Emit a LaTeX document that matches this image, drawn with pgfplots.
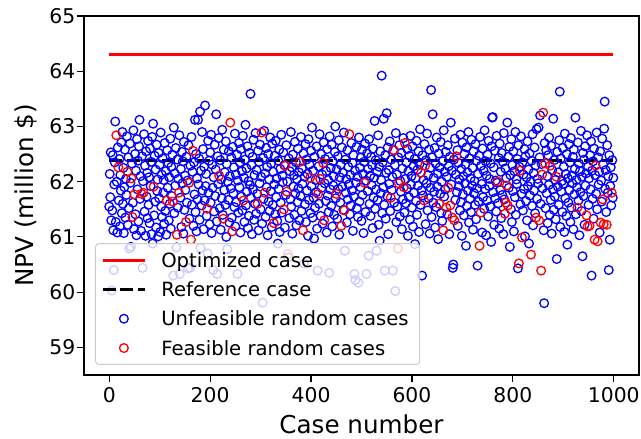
\documentclass[border=0pt]{standalone}
\usepackage{fontspec}
\setmainfont{DejaVu Sans}
\usepackage{pgfplots}
\usepackage{pgfplotstable}
\pgfplotsset{compat=1.18}

% NPV of each random case (case number = row index); c = 1 marks a feasible case
\pgfplotstableread[row sep=\\]{
y c\\
61.55 0\\ 62.14 0\\ 61.72 0\\ 62.53 0\\ 61.30 0\\ 60.03 0\\ 61.48 0\\ 62.48 0\\ 61.12 0\\ 60.40 0\\
61.95 0\\ 62.35 0\\ 63.09 0\\ 61.27 0\\ 62.84 1\\ 62.00 0\\ 61.08 0\\ 62.62 0\\ 62.26 1\\ 61.66 0\\
62.41 0\\ 61.19 0\\ 62.12 0\\ 61.84 0\\ 62.71 0\\ 61.43 0\\ 62.90 0\\ 61.60 0\\ 62.25 0\\ 61.07 0\\
61.90 0\\ 62.58 0\\ 61.35 0\\ 62.05 0\\ 61.76 0\\ 62.82 0\\ 62.18 1\\ 61.22 0\\ 62.44 0\\ 61.52 0\\
60.79 0\\ 62.69 0\\ 61.98 0\\ 60.82 0\\ 62.06 1\\ 62.33 0\\ 61.36 1\\ 61.62 0\\ 62.93 0\\ 61.14 0\\
61.77 1\\ 62.50 0\\ 61.41 0\\ 62.20 0\\ 61.03 0\\ 62.77 0\\ 61.86 0\\ 62.38 0\\ 61.28 0\\ 62.64 0\\
63.12 0\\ 61.69 0\\ 62.10 0\\ 61.11 0\\ 61.78 1\\ 62.46 0\\ 60.44 0\\ 62.01 0\\ 61.80 1\\ 62.86 0\\
61.46 0\\ 62.29 0\\ 61.02 0\\ 62.55 0\\ 61.73 0\\ 62.16 0\\ 61.34 0\\ 62.74 0\\ 61.58 0\\ 62.08 0\\
61.25 0\\ 62.60 0\\ 61.92 0\\ 62.36 0\\ 61.05 0\\ 62.81 0\\ 60.88 0\\ 63.05 0\\ 61.91 1\\ 61.39 0\\
62.47 0\\ 61.64 0\\ 62.22 0\\ 61.17 0\\ 62.67 0\\ 61.83 0\\ 62.04 0\\ 61.01 0\\ 62.52 0\\ 61.70 0\\
62.31 0\\ 61.09 0\\ 62.89 0\\ 61.55 0\\ 62.13 0\\ 61.36 0\\ 62.42 0\\ 61.80 0\\ 62.03 0\\ 61.24 0\\
62.70 0\\ 61.47 0\\ 62.19 0\\ 61.04 0\\ 61.66 1\\ 62.57 0\\ 61.89 0\\ 62.34 0\\ 61.30 0\\ 62.08 0\\
61.60 0\\ 62.78 0\\ 61.15 0\\ 62.27 0\\ 61.74 0\\ 62.49 0\\ 61.64 1\\ 60.30 0\\ 62.98 0\\ 61.43 0\\
62.15 0\\ 61.93 0\\ 62.61 0\\ 60.81 0\\ 61.04 1\\ 62.40 0\\ 61.53 0\\ 62.05 0\\ 61.80 1\\ 62.84 0\\
60.33 0\\ 61.71 0\\ 62.23 0\\ 61.18 0\\ 62.54 0\\ 61.97 0\\ 62.37 0\\ 61.06 0\\ 62.72 0\\ 61.49 0\\
62.11 0\\ 61.85 0\\ 61.27 1\\ 62.45 0\\ 61.62 0\\ 62.02 0\\ 60.43 0\\ 62.66 0\\ 61.98 1\\ 61.33 0\\
60.44 0\\ 62.29 0\\ 60.95 1\\ 62.81 0\\ 61.58 0\\ 62.18 0\\ 62.56 1\\ 61.20 0\\ 62.35 0\\ 61.77 0\\
63.12 0\\ 61.45 0\\ 62.50 0\\ 61.10 0\\ 62.06 0\\ 61.68 0\\ 63.12 0\\ 61.95 0\\ 62.42 0\\ 61.31 0\\
63.27 0\\ 60.80 0\\ 62.20 0\\ 61.57 0\\ 62.90 0\\ 61.84 0\\ 62.59 0\\ 61.14 0\\ 62.27 0\\ 61.66 0\\
63.38 0\\ 61.92 0\\ 62.14 0\\ 61.38 0\\ 61.51 1\\ 60.70 0\\ 62.74 0\\ 61.80 0\\ 62.38 0\\ 61.23 0\\
62.53 0\\ 61.62 0\\ 62.85 0\\ 61.07 0\\ 62.31 0\\ 61.89 0\\ 60.40 0\\ 62.08 0\\ 61.46 0\\ 62.67 0\\
61.74 0\\ 62.22 0\\ 63.22 0\\ 61.28 0\\ 60.33 0\\ 62.46 0\\ 61.96 0\\ 62.79 0\\ 62.11 1\\ 61.52 0\\
62.39 0\\ 61.13 0\\ 62.04 0\\ 61.70 0\\ 62.94 0\\ 61.40 0\\ 61.33 1\\ 62.58 0\\ 61.85 0\\ 62.17 0\\
61.58 0\\ 62.73 0\\ 61.00 0\\ 62.32 0\\ 60.78 0\\ 62.00 0\\ 61.67 0\\ 62.55 0\\ 61.26 0\\ 62.10 0\\
63.07 1\\ 61.88 0\\ 62.44 0\\ 61.35 0\\ 61.10 1\\ 62.63 0\\ 61.79 0\\ 62.26 0\\ 61.54 0\\ 62.87 0\\
61.19 0\\ 62.13 0\\ 61.63 0\\ 62.49 0\\ 60.33 0\\ 62.02 0\\ 61.44 0\\ 62.70 0\\ 61.90 0\\ 62.35 0\\
61.08 0\\ 62.59 0\\ 61.73 0\\ 62.19 0\\ 61.48 0\\ 62.83 0\\ 61.66 1\\ 62.07 0\\ 61.27 0\\ 62.40 0\\
63.03 0\\ 61.57 0\\ 62.24 0\\ 61.82 0\\ 62.64 0\\ 61.16 0\\ 62.01 0\\ 61.38 0\\ 62.52 0\\ 61.94 0\\
63.59 0\\ 61.71 0\\ 62.30 0\\ 61.05 0\\ 62.45 0\\ 61.86 0\\ 62.76 0\\ 61.31 0\\ 62.12 0\\ 61.60 0\\
62.88 0\\ 61.42 0\\ 62.21 0\\ 61.78 0\\ 61.60 1\\ 62.56 0\\ 61.12 0\\ 62.36 0\\ 61.97 0\\ 62.67 0\\
61.50 0\\ 62.09 0\\ 62.89 1\\ 61.24 0\\ 59.81 0\\ 62.43 0\\ 61.69 0\\ 62.92 0\\ 61.80 1\\ 62.15 0\\
61.36 0\\ 62.61 0\\ 61.90 0\\ 62.27 0\\ 61.03 0\\ 62.50 0\\ 61.64 0\\ 62.04 0\\ 61.47 0\\ 62.80 0\\
61.83 0\\ 62.33 0\\ 61.18 0\\ 62.69 0\\ 61.58 0\\ 62.18 0\\ 61.25 1\\ 61.95 0\\ 62.47 0\\ 61.41 0\\
62.74 0\\ 61.72 0\\ 62.06 0\\ 61.29 0\\ 60.88 0\\ 62.38 0\\ 61.87 0\\ 62.58 0\\ 61.09 0\\ 62.23 0\\
61.62 0\\ 62.85 0\\ 61.44 0\\ 62.11 0\\ 61.99 0\\ 62.53 0\\ 61.50 1\\ 62.30 0\\ 61.17 0\\ 62.29 1\\
61.76 0\\ 62.66 0\\ 61.82 1\\ 62.00 0\\ 60.69 1\\ 60.63 0\\ 62.42 0\\ 61.34 0\\ 62.19 0\\ 61.68 0\\
62.90 0\\ 61.55 0\\ 62.26 0\\ 61.06 0\\ 62.49 0\\ 61.91 0\\ 62.12 0\\ 61.40 0\\ 62.72 0\\ 61.79 0\\
62.35 0\\ 61.21 0\\ 62.05 0\\ 61.63 0\\ 62.60 0\\ 61.88 0\\ 62.17 0\\ 61.30 0\\ 62.36 1\\ 61.74 0\\
62.81 0\\ 61.47 0\\ 62.24 0\\ 61.96 0\\ 61.12 1\\ 62.51 0\\ 60.52 0\\ 62.09 0\\ 61.59 0\\ 62.68 0\\
61.27 0\\ 62.40 0\\ 61.84 0\\ 62.14 0\\ 61.02 0\\ 62.77 0\\ 61.67 0\\ 62.31 0\\ 62.07 1\\ 61.43 0\\
62.56 0\\ 61.92 0\\ 62.98 0\\ 61.35 0\\ 62.20 0\\ 61.71 0\\ 60.97 0\\ 62.45 0\\ 61.53 0\\ 62.03 0\\
61.81 0\\ 62.64 0\\ 61.15 0\\ 60.39 0\\ 61.78 1\\ 62.28 0\\ 61.60 0\\ 62.86 0\\ 62.05 1\\ 61.38 0\\
62.50 0\\ 61.89 0\\ 62.13 0\\ 61.24 0\\ 62.34 1\\ 62.71 0\\ 61.30 1\\ 61.97 0\\ 62.41 0\\ 61.65 0\\
62.19 0\\ 61.08 0\\ 62.59 0\\ 61.75 0\\ 62.03 0\\ 61.45 0\\ 60.35 0\\ 62.82 0\\ 61.86 0\\ 62.25 0\\
61.56 0\\ 62.67 0\\ 61.19 0\\ 62.37 0\\ 61.93 0\\ 62.10 0\\ 61.40 0\\ 62.54 0\\ 63.00 0\\ 61.70 0\\
61.78 1\\ 62.22 0\\ 61.33 0\\ 62.46 0\\ 61.87 0\\ 62.75 0\\ 61.04 0\\ 62.08 0\\ 61.62 0\\ 62.31 0\\
61.20 1\\ 62.62 0\\ 61.91 0\\ 62.16 0\\ 61.49 0\\ 62.89 0\\ 61.48 1\\ 60.75 0\\ 62.40 0\\ 61.80 0\\
62.05 0\\ 61.26 0\\ 62.57 0\\ 61.68 0\\ 62.27 0\\ 61.95 0\\ 62.86 1\\ 61.41 0\\ 62.12 0\\ 61.57 0\\
62.70 0\\ 61.84 0\\ 62.34 0\\ 61.11 0\\ 62.48 0\\ 61.73 0\\ 60.33 0\\ 62.20 0\\ 60.22 0\\ 61.98 0\\
62.63 0\\ 61.52 0\\ 62.09 0\\ 61.36 0\\ 60.17 0\\ 62.80 0\\ 61.64 0\\ 62.25 0\\ 61.90 0\\ 62.44 0\\
61.29 0\\ 62.58 0\\ 61.76 0\\ 62.14 0\\ 61.07 0\\ 62.36 0\\ 61.98 1\\ 62.69 0\\ 61.45 0\\ 62.02 0\\
60.33 0\\ 62.51 0\\ 61.83 0\\ 62.23 0\\ 60.66 0\\ 62.77 0\\ 61.60 0\\ 62.11 0\\ 61.38 0\\ 62.45 0\\
61.94 0\\ 62.30 0\\ 61.16 0\\ 62.60 0\\ 61.71 0\\ 62.07 0\\ 63.10 0\\ 61.51 0\\ 62.39 0\\ 61.86 0\\
60.75 0\\ 62.18 0\\ 61.67 0\\ 62.84 0\\ 61.22 0\\ 62.27 0\\ 60.93 0\\ 62.55 0\\ 61.79 0\\ 62.03 0\\
63.92 0\\ 61.43 0\\ 62.35 0\\ 61.90 0\\ 63.14 0\\ 61.58 0\\ 60.39 0\\ 62.48 0\\ 61.33 0\\ 62.16 0\\
63.24 0\\ 61.74 0\\ 62.62 0\\ 61.05 0\\ 62.21 0\\ 61.96 0\\ 62.73 0\\ 61.47 0\\ 61.71 1\\ 62.40 0\\
61.85 0\\ 62.09 0\\ 60.39 0\\ 62.57 0\\ 62.57 1\\ 61.62 0\\ 62.30 0\\ 60.02 0\\ 62.88 0\\ 61.27 0\\
62.13 0\\ 61.55 0\\ 60.79 1\\ 62.44 0\\ 61.97 1\\ 62.66 0\\ 61.37 0\\ 62.01 0\\ 61.82 0\\ 62.52 0\\
61.14 0\\ 62.24 0\\ 61.68 0\\ 62.79 0\\ 61.90 1\\ 61.44 0\\ 62.70 1\\ 62.05 0\\ 61.61 0\\ 62.35 0\\
61.88 0\\ 62.59 0\\ 61.02 0\\ 62.19 0\\ 61.72 0\\ 62.47 0\\ 61.31 0\\ 62.83 0\\ 61.95 0\\ 62.10 0\\
61.53 0\\ 62.64 0\\ 61.19 0\\ 62.28 0\\ 61.80 0\\ 62.41 0\\ 60.87 0\\ 62.06 0\\ 61.65 0\\ 62.74 0\\
61.40 0\\ 62.22 0\\ 61.93 0\\ 62.55 0\\ 61.09 0\\ 62.32 0\\ 62.95 0\\ 61.58 0\\ 62.16 1\\ 61.84 0\\
60.30 0\\ 62.48 0\\ 61.75 0\\ 62.03 0\\ 61.66 1\\ 62.68 0\\ 62.29 1\\ 61.23 0\\ 62.39 0\\ 61.97 0\\
62.87 0\\ 61.48 0\\ 62.12 0\\ 61.70 0\\ 62.58 0\\ 61.06 0\\ 62.25 0\\ 61.89 0\\ 63.66 0\\ 61.36 0\\
62.44 0\\ 63.22 0\\ 61.62 0\\ 62.07 0\\ 61.82 0\\ 62.61 0\\ 61.17 0\\ 62.33 0\\ 61.54 0\\ 62.80 0\\
61.91 0\\ 62.15 0\\ 60.96 0\\ 62.51 0\\ 61.60 1\\ 62.26 0\\ 61.78 0\\ 62.72 0\\ 61.43 0\\ 62.00 0\\
61.29 0\\ 62.37 0\\ 61.12 1\\ 62.93 0\\ 61.73 0\\ 62.18 0\\ 61.86 0\\ 62.54 0\\ 61.53 1\\ 62.09 0\\
61.41 0\\ 62.66 0\\ 61.89 1\\ 62.28 0\\ 61.05 0\\ 62.45 0\\ 61.57 1\\ 63.07 0\\ 61.95 0\\ 62.20 0\\
61.35 1\\ 60.44 0\\ 60.50 0\\ 62.40 0\\ 61.30 1\\ 62.78 0\\ 61.67 0\\ 62.13 0\\ 62.46 1\\ 61.81 0\\
62.57 0\\ 61.20 0\\ 62.34 0\\ 61.92 0\\ 62.04 0\\ 61.48 0\\ 62.85 0\\ 61.63 0\\ 62.23 0\\ 61.02 0\\
62.71 0\\ 61.77 0\\ 62.10 0\\ 61.39 0\\ 62.50 0\\ 61.97 0\\ 62.31 0\\ 60.84 0\\ 62.62 0\\ 61.56 0\\
62.17 0\\ 61.84 0\\ 62.90 0\\ 61.26 0\\ 62.42 0\\ 61.69 0\\ 62.06 0\\ 61.45 0\\ 62.76 0\\ 61.93 0\\
62.25 0\\ 61.13 0\\ 62.55 0\\ 61.79 0\\ 62.01 0\\ 61.58 0\\ 62.68 0\\ 61.32 0\\ 62.38 0\\ 61.88 0\\
60.48 0\\ 62.14 0\\ 61.64 0\\ 62.47 0\\ 60.84 1\\ 62.81 0\\ 61.44 1\\ 62.29 0\\ 61.96 0\\ 61.08 0\\
62.60 0\\ 61.72 0\\ 62.20 0\\ 61.51 0\\ 62.93 0\\ 61.87 0\\ 62.37 0\\ 61.03 0\\ 62.11 0\\ 61.66 0\\
62.49 0\\ 61.37 0\\ 62.74 0\\ 61.92 0\\ 62.05 0\\ 61.55 0\\ 62.33 0\\ 60.91 0\\ 62.64 0\\ 63.16 0\\
63.17 0\\ 61.81 0\\ 62.26 0\\ 61.22 0\\ 62.56 0\\ 61.70 0\\ 62.02 0\\ 61.46 0\\ 62.83 0\\ 61.98 0\\
62.00 1\\ 61.61 0\\ 62.43 0\\ 61.15 0\\ 62.69 0\\ 61.85 0\\ 62.18 0\\ 61.34 0\\ 62.52 0\\ 61.76 0\\
62.36 0\\ 61.05 0\\ 62.88 0\\ 61.68 0\\ 61.42 1\\ 62.24 0\\ 61.62 1\\ 62.07 0\\ 61.93 1\\ 63.07 0\\
61.57 1\\ 62.45 0\\ 61.89 0\\ 62.63 0\\ 60.82 0\\ 62.12 0\\ 61.50 0\\ 62.77 0\\ 61.27 0\\ 62.30 0\\
61.83 0\\ 62.55 0\\ 61.10 0\\ 62.19 0\\ 61.72 0\\ 62.90 0\\ 61.40 0\\ 62.04 0\\ 61.96 0\\ 62.41 0\\
60.43 0\\ 62.66 0\\ 60.52 1\\ 62.27 0\\ 62.20 1\\ 61.59 0\\ 62.82 0\\ 61.78 0\\ 60.99 1\\ 62.35 0\\
61.48 0\\ 62.13 0\\ 61.87 0\\ 62.59 0\\ 61.01 0\\ 62.46 0\\ 61.65 0\\ 62.08 0\\ 61.30 0\\ 62.73 0\\
61.92 0\\ 62.22 0\\ 60.88 0\\ 62.51 0\\ 61.75 0\\ 62.00 0\\ 60.68 1\\ 62.38 0\\ 61.56 0\\ 62.86 0\\
61.21 0\\ 62.16 0\\ 61.84 0\\ 62.62 0\\ 61.43 0\\ 62.29 0\\ 61.35 1\\ 62.95 0\\ 61.69 0\\ 62.05 0\\
61.97 0\\ 62.98 0\\ 61.30 1\\ 62.44 0\\ 63.20 0\\ 61.60 0\\ 60.39 1\\ 62.32 0\\ 62.13 1\\ 61.88 0\\
63.25 1\\ 61.12 0\\ 59.80 0\\ 62.70 0\\ 62.33 1\\ 61.52 0\\ 62.57 0\\ 61.79 0\\ 62.10 0\\ 61.25 0\\
62.48 0\\ 61.94 0\\ 62.80 0\\ 61.40 0\\ 62.29 1\\ 61.67 0\\ 62.65 0\\ 61.06 0\\ 62.21 0\\ 61.86 0\\
63.14 0\\ 61.49 0\\ 62.39 0\\ 61.73 0\\ 62.03 0\\ 61.32 0\\ 62.09 1\\ 60.60 0\\ 62.54 0\\ 61.91 0\\
62.17 0\\ 61.58 0\\ 62.75 0\\ 63.63 0\\ 61.18 0\\ 62.42 0\\ 61.82 0\\ 62.01 0\\ 61.45 0\\ 62.61 0\\
61.96 0\\ 62.27 0\\ 61.09 0\\ 62.87 0\\ 61.70 0\\ 62.14 0\\ 61.38 0\\ 62.50 0\\ 60.86 0\\ 62.06 0\\
61.62 0\\ 62.68 0\\ 61.85 0\\ 62.35 0\\ 61.27 0\\ 62.79 0\\ 61.53 0\\ 62.11 0\\ 61.97 0\\ 62.45 0\\
61.14 0\\ 62.58 0\\ 61.77 0\\ 62.23 0\\ 63.16 0\\ 61.41 0\\ 62.03 0\\ 61.90 0\\ 61.53 1\\ 62.71 0\\
61.66 0\\ 62.33 0\\ 61.03 0\\ 62.19 0\\ 61.81 0\\ 62.92 0\\ 61.47 0\\ 62.09 0\\ 60.65 0\\ 62.52 0\\
61.74 0\\ 62.40 0\\ 61.22 0\\ 62.64 0\\ 61.93 0\\ 62.15 0\\ 61.39 1\\ 62.84 0\\ 61.19 1\\ 62.27 0\\
61.58 0\\ 62.06 0\\ 61.20 1\\ 62.48 0\\ 61.86 0\\ 62.73 0\\ 60.30 0\\ 62.20 0\\ 61.69 0\\ 62.37 0\\
61.33 0\\ 62.60 0\\ 60.95 1\\ 62.12 0\\ 62.29 1\\ 61.78 0\\ 62.89 0\\ 61.50 0\\ 60.92 1\\ 62.44 0\\
61.95 0\\ 62.18 0\\ 61.08 0\\ 62.55 0\\ 61.26 1\\ 62.02 0\\ 61.64 0\\ 62.78 0\\ 61.68 1\\ 62.31 0\\
61.23 1\\ 62.96 0\\ 63.45 0\\ 61.87 0\\ 62.21 0\\ 61.45 0\\ 61.22 1\\ 62.66 0\\ 61.80 0\\ 62.10 0\\
60.40 0\\ 62.48 0\\ 60.95 0\\ 61.92 0\\ 62.26 0\\ 61.57 0\\ 61.80 1\\ 62.39 0\\ 61.71 0\\ 62.07 0\\
}\npvcases

\pgfplotsset{
  linelegend/.style={legend image code/.code={
      \path (0bp,0bp) (63bp,0bp);
      \draw[##1] (6bp,0bp) -- (48bp,0bp);}},
  marklegend/.style={legend image code/.code={
      \path (0bp,0bp) (63bp,0bp);
      \draw[##1] plot coordinates {(27bp,0bp)};}},
  casemark/.style={only marks, mark=o, mark size=4.35bp, line width=1.3bp},
}

\begin{document}
\begin{tikzpicture}
\begin{axis}[
  scale only axis,
  width=555bp, height=359bp,
  xmin=-50, xmax=1050,
  ymin=58.5, ymax=65,
  xtick={0,200,...,1000},
  ytick={59,60,...,65},
  tick pos=left,
  tick align=outside,
  major tick length=6.5bp,
  tick style={black, line width=1.1bp},
  axis line style={black, line width=1.1bp},
  /pgf/number format/assume math mode=true,
  /pgf/number format/1000 sep={},
  tick label style={font=\fontsize{20.4}{24.5}\selectfont},
  yticklabel style={anchor=east, inner xsep=0pt, xshift=-2bp},
  xticklabel style={anchor=base, inner ysep=0pt, yshift=-21bp},
  xlabel={Case number},
  ylabel={NPV (million \$)},
  every axis x label/.style={at={(axis description cs:0.5,-0.1616)}, anchor=base,
    font=\fontsize{24.7}{29.6}\selectfont},
  every axis y label/.style={at={(axis description cs:-0.0901,0.5)}, rotate=90, anchor=base,
    font=\fontsize{24.7}{29.6}\selectfont},
  legend cell align=left,
  legend style={
    at={(axis description cs:0.0198,0.0279)}, anchor=south west,
    font=\fontsize{19.7}{23.6}\selectfont,
    draw=black!20, line width=1bp, rounded corners=3.5bp,
    fill=white, fill opacity=0.8, draw opacity=1, text opacity=1,
    inner xsep=0pt, inner ysep=1.8bp,
    row sep=0pt, column sep=0pt,
    nodes={inner xsep=0pt, inner ysep=0pt, text height=21.85bp, text depth=7.45bp},
  },
]
\addlegendimage{red, line width=2.8bp, linelegend}
\addlegendentry{Optimized case}
\addlegendimage{black, line width=2.8bp, dash pattern=on 12.8bp off 4.8bp, linelegend}
\addlegendentry{Reference case}
\addlegendimage{blue, casemark, marklegend}
\addlegendentry{Unfeasible random cases\hspace*{11bp}}
\addlegendimage{red, casemark, marklegend}
\addlegendentry{Feasible random cases}

% random cases, unfeasible first and feasible on top
\addplot[blue, casemark, forget plot]
  table[x expr=\coordindex, y=y, restrict expr to domain={\thisrow{c}}{0:0}] {\npvcases};
\addplot[red, casemark, forget plot]
  table[x expr=\coordindex, y=y, restrict expr to domain={\thisrow{c}}{1:1}] {\npvcases};

% optimized and reference cases
\addplot[red, line width=2.8bp, forget plot] coordinates {(0,64.3) (999,64.3)};
\addplot[black, line width=2.8bp, dash pattern=on 12.8bp off 4.8bp, forget plot]
  coordinates {(0,62.38) (999,62.38)};
\end{axis}
\pgfresetboundingbox
\path[use as bounding box] (-84bp,-64bp) rectangle (557bp,375bp);
\end{tikzpicture}
\end{document}
